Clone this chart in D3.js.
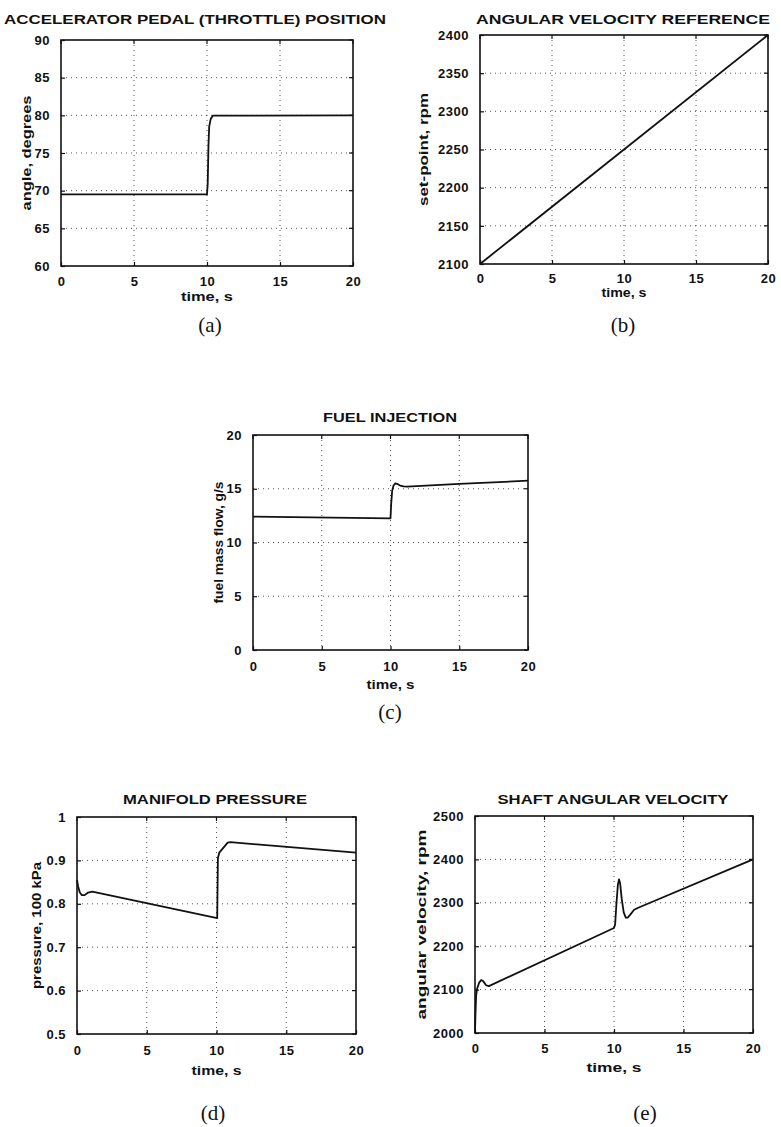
<!DOCTYPE html>
<html>
<head>
<meta charset="utf-8">
<script src="https://cdn.jsdelivr.net/npm/d3@7"></script>
<style>
  body { margin: 0; background: #fff; }
  svg { display: block; }
  .title, .tick-label, .axis-label {
    font-family: "Liberation Sans", Arial, sans-serif;
    font-weight: bold;
    fill: #111;
  }
  .caption { font-family: "Liberation Serif", "Times New Roman", serif; fill: #111; }
</style>
</head>
<body>
<div id="chart"></div>
<script>
const width = 781;
const height = 1127;

const timeTicks = [0, 5, 10, 15, 20];

// (a) accelerator pedal position
const throttleTime = [0, 10, 10.05, 10.1, 10.15, 10.25, 10.4, 20];
const throttleAngle = [69.5, 69.5, 71, 76, 78.5, 79.5, 79.95, 80];
const throttleTicks = [60, 65, 70, 75, 80, 85, 90];

// (b) angular velocity reference
const refTime = [0, 20];
const refSpeed = [2100, 2400];
const refTicks = [2100, 2150, 2200, 2250, 2300, 2350, 2400];

// (c) fuel injection
const fuelTime = [0, 10, 10.05, 10.12, 10.22, 10.35, 10.5, 10.7, 10.95, 11.2, 15, 20];
const fuelFlow = [12.4, 12.25, 13.6, 14.8, 15.3, 15.5, 15.45, 15.3, 15.22, 15.2, 15.45, 15.75];
const fuelTicks = [0, 5, 10, 15, 20];

// (d) manifold pressure
const pressTime = [0, 0.08, 0.2, 0.35, 0.55, 0.8, 1.1, 10.05, 10.1, 10.2, 10.8, 11, 20];
const pressValue = [0.855, 0.84, 0.826, 0.82, 0.82, 0.826, 0.828, 0.767, 0.905, 0.918, 0.941, 0.942, 0.918];
const pressTicks = [0.5, 0.6, 0.7, 0.8, 0.9, 1];

// (e) shaft angular velocity
const shaftTime = [0, 0.03, 0.08, 0.15, 0.3, 0.45, 0.6, 0.8, 1.0, 10, 10.08, 10.18, 10.28, 10.36, 10.44, 10.55, 10.7, 10.85, 11.0, 11.2, 11.45, 11.7, 20];
const shaftSpeed = [2000, 2040, 2085, 2102, 2116, 2122, 2119, 2110, 2108, 2242, 2250, 2300, 2342, 2354, 2345, 2310, 2278, 2266, 2266, 2274, 2284, 2288, 2400];
const shaftTicks = [2000, 2100, 2200, 2300, 2400, 2500];

const panels = [
  {
    title: "ACCELERATOR PEDAL (THROTTLE) POSITION", titleX: 195, titleY: 24, titleLen: 382,
    ylabel: "angle, degrees", ylabelX: 31, ylabelLen: 115,
    xlabelY: 301, xlabelLen: 52, tickGap: 20,
    caption: "(a)", capX: 210, capY: 332,
    left: 61, right: 353, top: 40, bottom: 266,
    yTicks: throttleTicks, t: throttleTime, v: throttleAngle,
  },
  {
    title: "ANGULAR VELOCITY REFERENCE", titleX: 623, titleY: 24, titleLen: 294,
    ylabel: "set-point, rpm", ylabelX: 428, ylabelLen: 113,
    xlabelY: 297, xlabelLen: 45, tickGap: 19,
    caption: "(b)", capX: 623, capY: 332,
    left: 480, right: 768, top: 35, bottom: 264,
    yTicks: refTicks, t: refTime, v: refSpeed,
  },
  {
    title: "FUEL INJECTION", titleX: 390, titleY: 422, titleLen: 134,
    ylabel: "fuel mass flow, g/s", ylabelX: 223, ylabelLen: 122,
    xlabelY: 689, xlabelLen: 48, tickGap: 21,
    caption: "(c)", capX: 390, capY: 719,
    left: 253, right: 528, top: 435, bottom: 650,
    yTicks: fuelTicks, t: fuelTime, v: fuelFlow,
  },
  {
    title: "MANIFOLD PRESSURE", titleX: 215, titleY: 804, titleLen: 184,
    ylabel: "pressure, 100 kPa", ylabelX: 41, ylabelLen: 127,
    xlabelY: 1075, xlabelLen: 50, tickGap: 21,
    caption: "(d)", capX: 213, capY: 1120,
    left: 77, right: 356, top: 817, bottom: 1034,
    yTicks: pressTicks, t: pressTime, v: pressValue,
  },
  {
    title: "SHAFT ANGULAR VELOCITY", titleX: 613, titleY: 804, titleLen: 231,
    ylabel: "angular velocity, rpm", ylabelX: 426, ylabelLen: 190,
    xlabelY: 1072, xlabelLen: 55, tickGap: 20,
    caption: "(e)", capX: 645, capY: 1120,
    left: 475, right: 753, top: 816, bottom: 1033,
    yTicks: shaftTicks, t: shaftTime, v: shaftSpeed,
  },
];

const svg = d3
  .select("#chart")
  .append("svg")
  .attr("width", width)
  .attr("height", height)
  .attr("viewBox", `0 0 ${width} ${height}`);

svg.append("rect").attr("width", width).attr("height", height).attr("fill", "#fff");

function drawPanel(p) {
  const g = svg.append("g");

  const x = d3.scaleLinear().domain([0, 20]).range([p.left, p.right]);
  const y = d3.scaleLinear().domain(d3.extent(p.yTicks)).range([p.bottom, p.top]);

  // dotted grid
  g.selectAll(".grid-x")
    .data(timeTicks.slice(1, -1))
    .join("line")
    .attr("x1", d => x(d)).attr("x2", d => x(d))
    .attr("y1", p.top).attr("y2", p.bottom)
    .attr("stroke", "#555").attr("stroke-width", 1)
    .attr("stroke-dasharray", "1,4");

  g.selectAll(".grid-y")
    .data(p.yTicks.slice(1, -1))
    .join("line")
    .attr("x1", p.left).attr("x2", p.right)
    .attr("y1", d => y(d)).attr("y2", d => y(d))
    .attr("stroke", "#555").attr("stroke-width", 1)
    .attr("stroke-dasharray", "1,4");

  // axes with inward ticks
  const xAxis = d3.axisBottom(x).tickValues(timeTicks).tickSize(-4).tickPadding(9).tickFormat(d3.format("d"));
  const yAxis = d3.axisLeft(y).tickValues(p.yTicks).tickSize(-4).tickPadding(11).tickFormat(d => String(d));

  const gx = g.append("g").attr("transform", `translate(0,${p.bottom})`).call(xAxis);
  const gy = g.append("g").attr("transform", `translate(${p.left},0)`).call(yAxis);

  [gx, gy].forEach(a => {
    a.select(".domain").remove();
    a.selectAll(".tick line").attr("stroke", "#111").attr("stroke-width", 1.2);
    a.selectAll(".tick text")
      .attr("class", "tick-label")
      .attr("font-size", 13)
      .attr("letter-spacing", 0.5)
      .attr("fill", "#111");
  });
  gx.selectAll(".tick text").attr("dy", null).attr("y", p.tickGap);

  // top / right ticks
  g.selectAll(".top-tick")
    .data(timeTicks)
    .join("line")
    .attr("x1", d => x(d)).attr("x2", d => x(d))
    .attr("y1", p.top).attr("y2", p.top + 4)
    .attr("stroke", "#111").attr("stroke-width", 1.2);
  g.selectAll(".right-tick")
    .data(p.yTicks)
    .join("line")
    .attr("x1", p.right).attr("x2", p.right - 4)
    .attr("y1", d => y(d)).attr("y2", d => y(d))
    .attr("stroke", "#111").attr("stroke-width", 1.2);

  // data line
  const line = d3.line()
    .x(d => x(d[0]))
    .y(d => y(d[1]));

  g.append("path")
    .datum(d3.zip(p.t, p.v))
    .attr("fill", "none")
    .attr("stroke", "#111")
    .attr("stroke-width", 1.8)
    .attr("stroke-linejoin", "round")
    .attr("d", line);

  // frame
  g.append("rect")
    .attr("x", p.left).attr("y", p.top)
    .attr("width", p.right - p.left).attr("height", p.bottom - p.top)
    .attr("fill", "none").attr("stroke", "#111").attr("stroke-width", 1.6);

  // texts
  g.append("text")
    .attr("class", "title")
    .attr("x", p.titleX).attr("y", p.titleY)
    .attr("text-anchor", "middle")
    .attr("font-size", 13.5)
    .attr("textLength", p.titleLen)
    .attr("lengthAdjust", "spacingAndGlyphs")
    .text(p.title);

  g.append("text")
    .attr("class", "axis-label")
    .attr("x", (p.left + p.right) / 2).attr("y", p.xlabelY)
    .attr("text-anchor", "middle")
    .attr("font-size", 12)
    .attr("textLength", p.xlabelLen)
    .attr("lengthAdjust", "spacingAndGlyphs")
    .text("time, s");

  g.append("text")
    .attr("class", "axis-label")
    .attr("transform", `translate(${p.ylabelX},${(p.top + p.bottom) / 2}) rotate(-90)`)
    .attr("text-anchor", "middle")
    .attr("font-size", 12)
    .attr("textLength", p.ylabelLen)
    .attr("lengthAdjust", "spacingAndGlyphs")
    .text(p.ylabel);

  g.append("text")
    .attr("class", "caption")
    .attr("x", p.capX).attr("y", p.capY)
    .attr("text-anchor", "middle")
    .attr("font-size", 21)
    .text(p.caption);
}

panels.forEach(drawPanel);
</script>
</body>
</html>
